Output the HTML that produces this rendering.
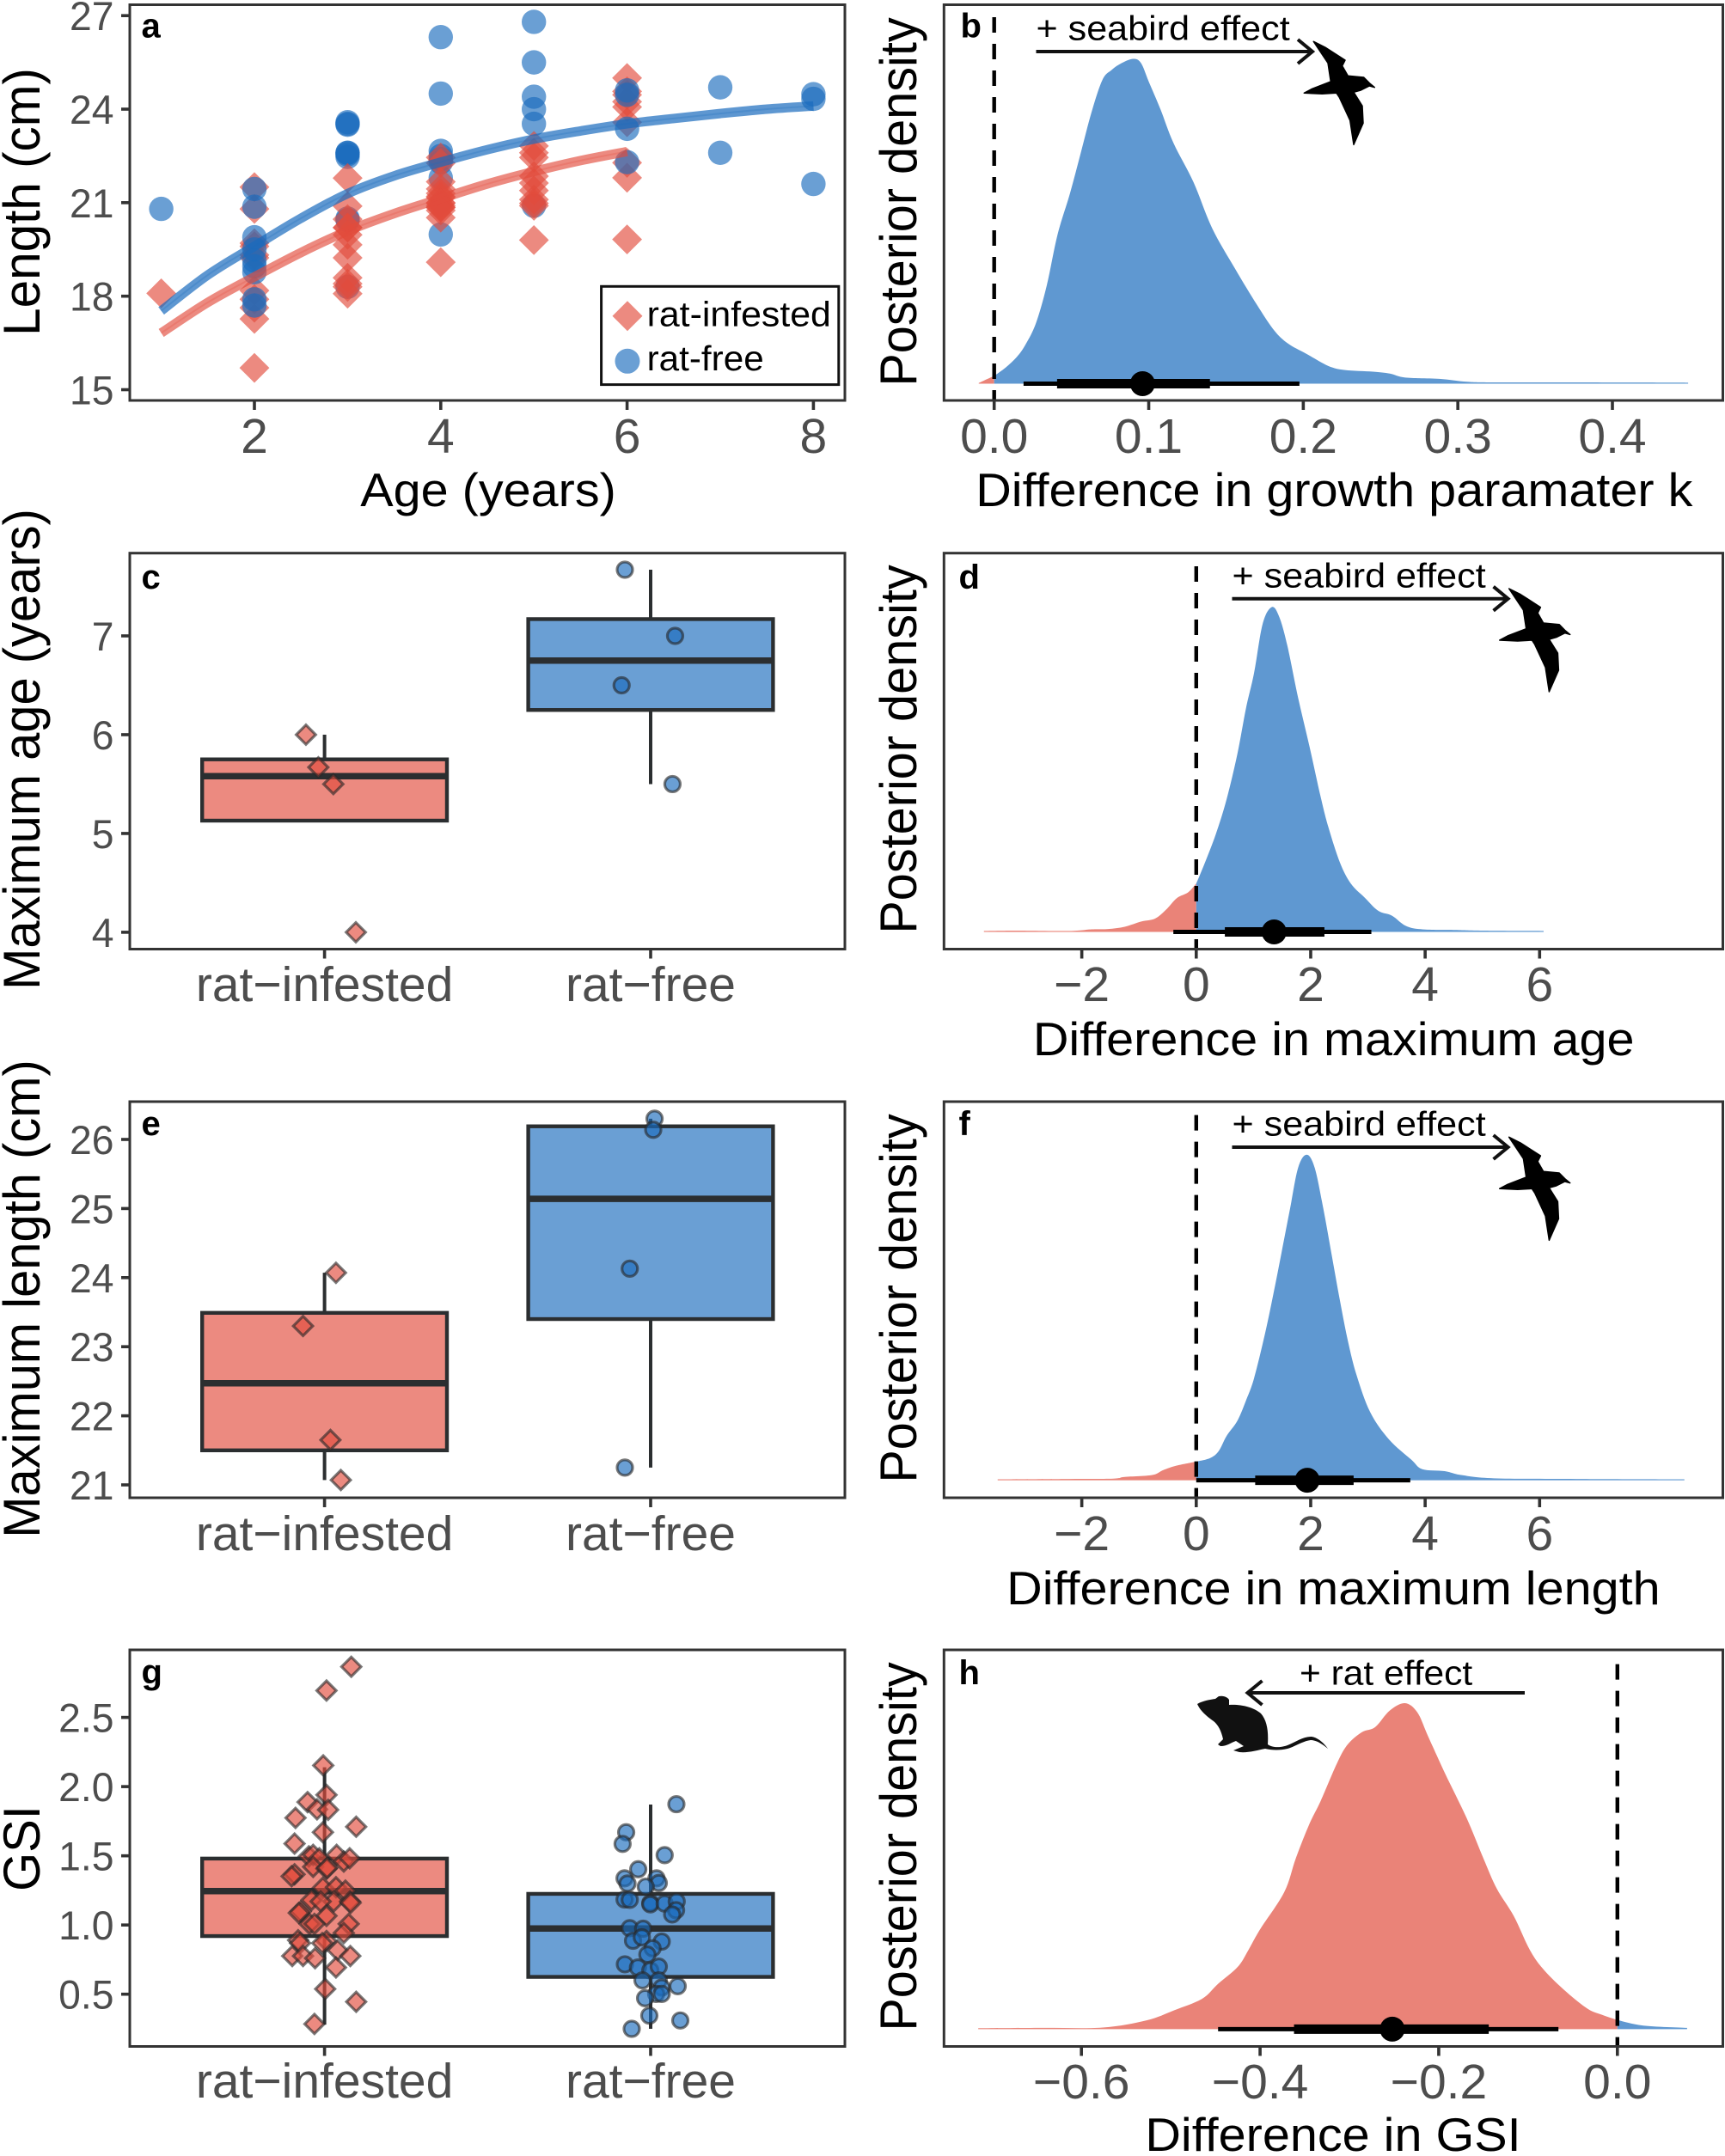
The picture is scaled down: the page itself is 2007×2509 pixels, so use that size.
<!DOCTYPE html>
<html lang="en">
<head>
<meta charset="utf-8">
<title>Seabird and rat effects on fish life history</title>
<style>
html,body{margin:0;padding:0;background:#fff}
svg{display:block}
text{font-family:"Liberation Sans",Arial,sans-serif}
.ttl{font-size:55px;fill:#000;text-anchor:middle}
.vttl{font-size:60px;fill:#000;text-anchor:middle}
.let{font-size:40px;font-weight:bold;fill:#000}
.ann{font-size:40px;fill:#000}
.leg{font-size:41px;fill:#000}
.frame{fill:none;stroke:#333;stroke-width:3}
.arrow{fill:none;stroke:#111;stroke-width:4}
.bird{fill:#000;stroke:#000;stroke-width:1.5;stroke-linejoin:round}
</style>
</head>
<body>
<svg id="fig" xmlns="http://www.w3.org/2000/svg" width="2007" height="2509" viewBox="0 0 2007 2509">
<rect x="0" y="0" width="2007" height="2509" fill="#fff"/>

<g id="pa"></g>
<g id="pb"></g>
<g id="pc"></g>
<g id="pd"></g>
<g id="pe"></g>
<g id="pf"></g>
<g id="pg"></g>
<g id="ph"></g>

<g id="static">
  <!-- panel frames -->
  <rect class="frame" x="151" y="5.5" width="832" height="460.5"/>
  <rect class="frame" x="1098.3" y="5.5" width="906.2" height="460.5"/>
  <rect class="frame" x="151" y="643.7" width="832" height="460.8"/>
  <rect class="frame" x="1098.3" y="643.7" width="906.2" height="460.8"/>
  <rect class="frame" x="151" y="1282" width="832" height="461"/>
  <rect class="frame" x="1098.3" y="1282" width="906.2" height="461"/>
  <rect class="frame" x="151" y="1920" width="832" height="461.5"/>
  <rect class="frame" x="1098.3" y="1920" width="906.2" height="461.5"/>

  <!-- panel letters -->
  <text class="let" x="164.5" y="43.5">a</text>
  <text class="let" x="1117.5" y="43.5">b</text>
  <text class="let" x="164.5" y="685">c</text>
  <text class="let" x="1115.5" y="685">d</text>
  <text class="let" x="164.5" y="1321">e</text>
  <text class="let" x="1115.5" y="1321">f</text>
  <text class="let" x="164.5" y="1959">g</text>
  <text class="let" x="1115.5" y="1960">h</text>

  <!-- axis titles -->
  <text class="ttl" transform="translate(568,589) scale(1.047,1)">Age (years)</text>
  <text class="ttl" transform="translate(1552.3,589) scale(1.047,1)">Difference in growth paramater k</text>
  <text class="ttl" transform="translate(1551.7,1228) scale(1.047,1)">Difference in maximum age</text>
  <text class="ttl" transform="translate(1551.4,1867) scale(1.047,1)">Difference in maximum length</text>
  <text class="ttl" transform="translate(1551,2503) scale(1.047,1)">Difference in GSI</text>

  <text class="vttl" transform="translate(46,235) rotate(-90) scale(.974,1)">Length (cm)</text>
  <text class="vttl" transform="translate(46,872) rotate(-90) scale(.965,1)">Maximum age (years)</text>
  <text class="vttl" transform="translate(46,1511.5) rotate(-90) scale(.965,1)">Maximum length (cm)</text>
  <text class="vttl" transform="translate(46,2151) rotate(-90) scale(.965,1)">GSI</text>
  <text class="vttl" transform="translate(1066,235) rotate(-90) scale(.961,1)">Posterior density</text>
  <text class="vttl" transform="translate(1066,872) rotate(-90) scale(.961,1)">Posterior density</text>
  <text class="vttl" transform="translate(1066,1511) rotate(-90) scale(.961,1)">Posterior density</text>
  <text class="vttl" transform="translate(1066,2149) rotate(-90) scale(.961,1)">Posterior density</text>

  <!-- legend panel a -->
  <g>
    <rect x="699.6" y="333.3" width="276.2" height="114.3" fill="#fff" stroke="#111" stroke-width="3"/>
    <polygon points="730,350.2 747.5,367.7 730,385.2 712.5,367.7" fill="#e24b3c" fill-opacity=".65"/>
    <circle cx="730" cy="420.3" r="14.5" fill="#1a6bbd" fill-opacity=".65"/>
    <text class="leg" transform="translate(752.6,379.6) scale(1.045,1)">rat-infested</text>
    <text class="leg" transform="translate(752.6,431) scale(1.03,1)">rat-free</text>
  </g>

  <!-- seabird annotation b -->
  <g>
    <text class="ann" transform="translate(1205.5,46.7) scale(1.078,1)">+ seabird effect</text>
    <path class="arrow" d="M1205.5 60H1526M1510 46L1527 60L1510 74"/>
    <path class="bird" transform="translate(1480,20)" d="M48.3 28.3L61.7 35L85 50L81.7 56.7L88.3 68.3L106.7 70L113.3 76.7L119.3 81.7L113.3 80L103.3 85L95 87.3L105 103.3L106 123.3L95 148.3L90.7 120L78.3 93.3L75 88.3L58.3 89.3L37.3 88.3L46.7 83.3L68.3 75L65 53.3Z"/>
  </g>
  <!-- seabird annotation d -->
  <g>
    <text class="ann" transform="translate(1433.5,683.3) scale(1.078,1)">+ seabird effect</text>
    <path class="arrow" d="M1433.5 696.7H1753.6M1737.6 682.7L1754.6 696.7L1737.6 710.7"/>
    <path class="bird" transform="translate(1707.4,656.7)" d="M48.3 28.3L61.7 35L85 50L81.7 56.7L88.3 68.3L106.7 70L113.3 76.7L119.3 81.7L113.3 80L103.3 85L95 87.3L105 103.3L106 123.3L95 148.3L90.7 120L78.3 93.3L75 88.3L58.3 89.3L37.3 88.3L46.7 83.3L68.3 75L65 53.3Z"/>
  </g>
  <!-- seabird annotation f -->
  <g>
    <text class="ann" transform="translate(1433.5,1321.3) scale(1.078,1)">+ seabird effect</text>
    <path class="arrow" d="M1433.5 1335H1753.6M1737.6 1321L1754.6 1335L1737.6 1349"/>
    <path class="bird" transform="translate(1707.4,1295)" d="M48.3 28.3L61.7 35L85 50L81.7 56.7L88.3 68.3L106.7 70L113.3 76.7L119.3 81.7L113.3 80L103.3 85L95 87.3L105 103.3L106 123.3L95 148.3L90.7 120L78.3 93.3L75 88.3L58.3 89.3L37.3 88.3L46.7 83.3L68.3 75L65 53.3Z"/>
  </g>
  <!-- rat annotation h -->
  <g>
    <text class="ann" transform="translate(1512,1960.3) scale(1.063,1)">+ rat effect</text>
    <path class="arrow" d="M1774 1970H1452.5M1468.5 1956L1451.5 1970L1468.5 1984"/>
    <path fill="#111" d="M1393 1983C1400 1979 1408 1978 1414 1977L1418 1974C1424 1973 1428 1975 1430 1978L1430 1984C1442 1983 1458 1986 1467 1994C1474 2002 1476 2014 1475 2030C1480 2034 1490 2034 1498 2031C1508 2027 1516 2021 1526 2021C1533 2022 1540 2028 1545 2035C1538 2029 1531 2025 1525 2025C1516 2026 1508 2032 1498 2035C1490 2037 1480 2037 1472 2035C1462 2037 1452 2040 1442 2039L1435 2037L1447 2032L1438 2026C1432 2028 1428 2032 1420 2032L1417 2030L1423 2024C1421 2014 1417 2007 1412 2003C1405 1998 1397 1992 1393 1983Z"/>
  </g>
</g>
</svg>

<script>
// ---------- Panel a data ----------
const ageTicks = [2, 4, 6, 8];
const lengthTicks = [15, 18, 21, 24, 27];
const infestedAge = [1, 2,2,2,2,2,2,2,2,2,2,2, 3,3,3,3,3,3,3,3,3,3,3,3, 4,4,4,4,4,4,4,4,4,4,4,4,4,4,4, 5,5,5,5,5,5,5,5,5,5, 6,6,6,6,6,6,6,6,6];
const infestedLength = [18.09, 21.5,20.8,19.7,19.6,19.32,19.23,18.18,17.9,17.63,17.27,15.7, 21.79,20.89,20.47,20.2,20.2,19.97,19.65,19.23,18.59,18.4,18.3,18.08, 22.45,22.27,21.67,21.44,21.3,21.2,21.16,21.0,20.98,20.9,20.85,20.84,20.75,20.52,19.09, 22.82,22.6,22.45,21.85,21.63,21.39,21.1,20.98,20.9,19.8, 25.0,24.57,24.46,24.24,24.07,23.58,22.28,21.8,19.82];
const freeAge = [1, 2,2,2,2,2,2,2,2,2, 3,3,3,3,3,3,3,3,3,3, 4,4,4,4,4,4,4,4, 5,5,5,5,5,5, 6,6,6,6, 7,7, 8,8,8];
const freeLength = [20.8, 21.44,20.87,19.89,19.5,19.14,18.96,18.77,17.9,17.7, 23.58,23.53,23.5,22.6,22.6,22.55,22.47,20.49,20.44,18.3, 26.31,24.5,22.66,22.5,22.4,22.3,21.8,19.98, 26.8,25.5,24.4,24.0,23.53,20.9, 24.6,24.46,23.37,22.3, 24.7,22.6, 24.48,24.33,21.6];
const curveAge = [1, 1.5, 2, 2.5, 3, 3.5, 4, 4.5, 5, 5.5, 6, 6.5, 7, 7.5, 8];
const freeCurve = [17.53, 18.68, 19.6, 20.5, 21.29, 21.86, 22.3, 22.7, 23.04, 23.3, 23.53, 23.7, 23.86, 24.0, 24.1];
const infestedCurveAge = [1, 1.5, 2, 2.5, 3, 3.5, 4, 4.5, 5, 5.5, 6];
const infestedCurve = [16.82, 17.8, 18.62, 19.4, 20.09, 20.65, 21.13, 21.6, 22.0, 22.35, 22.64];
// ages whose rat-free points sit underneath the rat-infested points
const freeBelowAges = [3, 4, 5];

// ---------- Box panels shared ----------
const groups = ['rat\u2212infested', 'rat\u2212free'];

// ---------- Panel c data ----------
const maxAgeTicks = [4, 5, 6, 7];
const maxAgeBoxInfested = [5.13, 5.58, 5.75];
const maxAgeBoxFree = [6.25, 6.75, 7.17];
const maxAgeWhiskerInfested = [5.13, 6];
const maxAgeWhiskerFree = [5.5, 7.67];
const maxAgeInfested = [6, 5.67, 5.5, 4];
const maxAgeInfestedJitter = [-0.057, -0.019, 0.027, 0.096];
const maxAgeFree = [7.67, 7, 6.5, 5.5];
const maxAgeFreeJitter = [-0.079, 0.075, -0.089, 0.067];

// ---------- Panel e data ----------
const maxLenTicks = [21, 22, 23, 24, 25, 26];
const maxLenBoxInfested = [21.5, 22.47, 23.49];
const maxLenBoxFree = [23.4, 25.14, 26.19];
const maxLenWhiskerInfested = [21.07, 24.07];
const maxLenWhiskerFree = [21.25, 26.3];
const maxLenInfested = [24.07, 23.3, 21.65, 21.07];
const maxLenInfestedJitter = [0.035, -0.066, 0.018, 0.05];
const maxLenFree = [26.3, 26.14, 24.13, 21.25];
const maxLenFreeJitter = [0.012, 0.008, -0.064, -0.079];

// ---------- Panel g data ----------
const gsiTicks = ['0.5', '1.0', '1.5', '2.0', '2.5'];
const gsiBoxInfested = [0.92, 1.245, 1.48];
const gsiBoxFree = [0.625, 0.975, 1.225];
const gsiWhiskerInfested = [0.28, 2.14];
const gsiWhiskerFree = [0.25, 1.87];
const gsiInfested = [2.866,2.694,2.153,1.94,1.888,1.836,1.832,1.774,1.71,1.67,1.588,1.496,1.507,1.482,1.507,1.459,1.482,1.42,1.407,1.413,1.366,1.352,1.269,1.273,1.248,1.18,1.17,1.17,1.16,1.17,1.097,1.087,1.066,1.008,1.008,1.008,0.942,0.89,0.869,0.884,0.869,0.817,0.776,0.776,0.76,0.776,0.693,0.538,0.445,0.285];
const gsiInfestedJitter = [0.082,0.006,-0.004,0.006,-0.052,-0.023,0.011,-0.089,0.097,-0.005,-0.092,-0.048,-0.035,-0.016,0.037,0.059,0.077,-0.035,0.006,0.008,-0.092,-0.101,-0.005,0.035,0.064,-0.04,0.028,0.078,0.08,-0.012,-0.073,-0.079,0.006,-0.046,-0.031,0.074,0.059,-0.081,-0.075,0.006,-0.007,0.04,-0.099,-0.066,-0.029,0.079,0.035,0.002,0.097,-0.031];
const gsiFree = [1.873,1.67,1.586,1.505,1.403,1.337,1.337,1.3,1.304,1.277,1.184,1.182,1.159,1.149,1.155,1.17,1.107,1.076,0.977,0.973,0.886,0.911,0.88,0.832,0.786,0.716,0.693,0.672,0.699,0.6,0.6,0.548,0.558,0.502,0.502,0.471,0.345,0.31,0.25];
const gsiFreeJitter = [0.079,-0.075,-0.086,0.043,-0.038,-0.08,0.018,-0.071,0.025,-0.015,-0.08,-0.064,-0.001,-0.001,0.043,0.08,0.078,0.066,-0.064,-0.023,-0.054,-0.027,0.034,0.006,-0.01,-0.079,-0.039,-0.001,0.025,-0.025,0.025,0.034,0.083,0.017,0.034,-0.017,-0.004,0.091,-0.058];

// ---------- Panel b data ----------
const kTicks = ['0.0', '0.1', '0.2', '0.3', '0.4'];
const kX = [-0.010,0,0.0075,0.0146,0.02,0.027,0.034,0.041,0.049,0.056,0.063,0.07,0.076,0.0825,0.09,0.095,0.1,0.1075,0.116,0.129,0.141,0.156,0.17,0.181,0.19,0.202,0.216,0.227,0.245,0.256,0.266,0.288,0.306,0.324,0.377,0.449];
const kDensity = [0.002,0.024,0.05,0.082,0.118,0.186,0.302,0.459,0.585,0.71,0.836,0.935,0.966,0.987,1,0.987,0.93,0.846,0.741,0.62,0.479,0.353,0.243,0.165,0.124,0.092,0.055,0.042,0.037,0.031,0.019,0.015,0.006,0.004,0.004,0.003];
const kInterval = [0.019, 0.0407, 0.096, 0.1396, 0.1975];

// ---------- Panel d data ----------
const diffTicks = [-2, 0, 2, 4, 6];
const ageDiffX = [-3.71,-3.13,-2.22,-1.83,-1.54,-1.25,-0.96,-0.72,-0.53,-0.34,-0.14,0,0.14,0.34,0.53,0.72,0.87,1.01,1.16,1.32,1.45,1.59,1.78,1.98,2.17,2.31,2.51,2.7,2.94,3.18,3.42,3.66,3.95,4.53,5.01,6.07];
const ageDiffDensity = [0.003,0.004,0.003,0.008,0.009,0.016,0.032,0.041,0.068,0.104,0.122,0.149,0.208,0.3,0.408,0.549,0.689,0.797,0.948,1,0.97,0.883,0.721,0.57,0.419,0.322,0.214,0.149,0.106,0.065,0.05,0.019,0.008,0.006,0.004,0.003];
const ageDiffInterval = [-0.40, 0.5, 1.36, 2.24, 3.06];

// ---------- Panel f data ----------
const lenDiffX = [-3.47,-2.22,-1.45,-1.25,-0.77,-0.58,-0.34,0,0.24,0.39,0.53,0.72,0.87,1.01,1.2,1.35,1.49,1.64,1.78,1.93,2.07,2.22,2.36,2.51,2.65,2.8,3.04,3.37,3.76,3.95,4.34,4.63,5.2,6.65,8.53];
const lenDiffDensity = [0.003,0.004,0.005,0.01,0.016,0.031,0.045,0.057,0.068,0.089,0.136,0.183,0.245,0.313,0.449,0.574,0.699,0.835,0.96,1,0.96,0.835,0.699,0.553,0.428,0.324,0.209,0.125,0.063,0.034,0.028,0.016,0.006,0.004,0.003];
const lenDiffInterval = [0, 1.03, 1.94, 2.75, 3.74];

// ---------- Panel h data ----------
const gsiDiffTicks = ['\u22120.6', '\u22120.4', '\u22120.2', '0.0'];
const gsiDiffTickValues = [-0.6, -0.4, -0.2, 0];
const gsiDiffX = [-0.7155,-0.644,-0.576,-0.527,-0.496,-0.465,-0.447,-0.425,-0.413,-0.4,-0.373,-0.36,-0.345,-0.332,-0.314,-0.302,-0.286,-0.271,-0.255,-0.238,-0.224,-0.212,-0.193,-0.169,-0.15,-0.135,-0.116,-0.098,-0.082,-0.057,-0.033,-0.017,0,0.029,0.078];
const gsiDiffDensity = [0.003,0.004,0.005,0.027,0.058,0.093,0.139,0.191,0.243,0.306,0.42,0.524,0.628,0.701,0.815,0.873,0.911,0.927,0.977,1,0.972,0.899,0.785,0.649,0.524,0.431,0.347,0.243,0.181,0.114,0.062,0.044,0.028,0.011,0.004];
const gsiDiffInterval = [-0.447, -0.362, -0.252, -0.144, -0.066];

// ---------- Drawing helpers ----------
const NS = 'http://www.w3.org/2000/svg';
const RED = '#e24b3c', BLUE = '#1a6bbd';
function make(tag, attrs, parent) {
  const el = document.createElementNS(NS, tag);
  for (const k in attrs) el.setAttribute(k, attrs[k]);
  parent.appendChild(el);
  return el;
}
function linear(d0, r0, d1, r1) {
  return function (v) { return r0 + (v - d0) * (r1 - r0) / (d1 - d0); };
}
function smoothPath(pts) {
  let d = 'M' + pts[0][0].toFixed(2) + ' ' + pts[0][1].toFixed(2);
  for (let i = 0; i < pts.length - 1; i++) {
    const p0 = pts[Math.max(0, i - 1)], p1 = pts[i], p2 = pts[i + 1], p3 = pts[Math.min(pts.length - 1, i + 2)];
    const c1x = p1[0] + (p2[0] - p0[0]) / 6, c1y = p1[1] + (p2[1] - p0[1]) / 6;
    const c2x = p2[0] - (p3[0] - p1[0]) / 6, c2y = p2[1] - (p3[1] - p1[1]) / 6;
    d += 'C' + c1x.toFixed(2) + ' ' + c1y.toFixed(2) + ' ' + c2x.toFixed(2) + ' ' + c2y.toFixed(2) + ' ' + p2[0].toFixed(2) + ' ' + p2[1].toFixed(2);
  }
  return d;
}
function xTick(parent, px, axisY, label, baseline) {
  const t = make('line', { x1: px, x2: px, y1: axisY, y2: axisY + 11, stroke: '#333', 'stroke-width': 3.6 }, parent);
  
  
  const s = make('text', { x: px, y: baseline + 1, 'text-anchor': 'middle', 'font-size': 57, fill: '#4d4d4d' }, parent);
  s.textContent = label;
  
  
}
function yTick(parent, py, label) {
  const t = make('line', { x1: 141, x2: 151, y1: py, y2: py, stroke: '#333', 'stroke-width': 3.6 }, parent);
  
  
  const s = make('text', { transform: 'translate(132.5,' + (py + 17) + ') scale(.985,1)', 'text-anchor': 'end', 'font-size': 47, fill: '#4d4d4d' }, parent);
  s.textContent = label;
  
  
}
function diamondPts(cx, cy, h) {
  return cx + ',' + (cy - h) + ' ' + (cx + h) + ',' + cy + ' ' + cx + ',' + (cy + h) + ' ' + (cx - h) + ',' + cy;
}

// ---------- Panel a ----------
(function () {
  const g = document.getElementById('pa');
  const x = linear(2, 296, 8, 946.4);
  const y = linear(15, 453.5, 27, 18.2);
  const drawFree = function (below) {
    freeAge.forEach(function (a, i) {
      if (freeBelowAges.includes(a) !== below) return;
      const m = make('circle', { cx: x(a), cy: y(freeLength[i]), r: 14.2, fill: BLUE, 'fill-opacity': 0.65 }, g);
      
      
    });
  };
  drawFree(true);
  infestedAge.forEach(function (a, i) {
    const m = make('polygon', { points: diamondPts(x(a), y(infestedLength[i]), 17.4), fill: RED, 'fill-opacity': 0.65 }, g);
    
    
  });
  drawFree(false);
  const rp = smoothPath(infestedCurveAge.map(function (a, i) { return [x(a), y(infestedCurve[i])]; }));
  const bp = smoothPath(curveAge.map(function (a, i) { return [x(a), y(freeCurve[i])]; }));
  const r1 = make('path', { d: rp, fill: 'none', stroke: RED, 'stroke-opacity': 0.65, 'stroke-width': 11 }, g);
  
  
  const r2 = make('path', { d: rp, fill: 'none', stroke: RED, 'stroke-opacity': 0.25, 'stroke-width': 2 }, g);
  
  
  const b1 = make('path', { d: bp, fill: 'none', stroke: BLUE, 'stroke-opacity': 0.7, 'stroke-width': 11 }, g);
  
  
  const b2 = make('path', { d: bp, fill: 'none', stroke: BLUE, 'stroke-opacity': 0.25, 'stroke-width': 2 }, g);
  
  
  ageTicks.forEach(function (t) { xTick(g, x(t), 466, String(t), 526); });
  lengthTicks.forEach(function (t) { yTick(g, y(t), String(t)); });
})();

// ---------- Box panels ----------
function boxPanel(id, y, axisY, baseline, boxes, whiskers, vals, jits) {
  const g = document.getElementById(id);
  const cat = linear(0, 377.6, 1, 757);
  const halfW = 142.4;
  [0, 1].forEach(function (c) {
    const cx = cat(c);
    const up = make('line', { x1: cx, x2: cx, y1: y(boxes[c][2]), y2: y(whiskers[c][1]), stroke: '#2b2e30', 'stroke-width': 4 }, g);
    
    
    const dn = make('line', { x1: cx, x2: cx, y1: y(boxes[c][0]), y2: y(whiskers[c][0]), stroke: '#2b2e30', 'stroke-width': 4 }, g);
    
    
    const b = make('rect', { x: cx - halfW, y: y(boxes[c][2]), width: 2 * halfW, height: y(boxes[c][0]) - y(boxes[c][2]), fill: c === 0 ? '#ec8a80' : '#6a9fd4', stroke: '#2b2e30', 'stroke-width': 4.4 }, g);
    
    
    const m = make('line', { x1: cx - halfW, x2: cx + halfW, y1: y(boxes[c][1]), y2: y(boxes[c][1]), stroke: '#2b2e30', 'stroke-width': 7.5 }, g);
    
    
  });
  vals[0].forEach(function (v, i) {
    const p = make('polygon', { points: diamondPts(cat(0) + jits[0][i] * 379.4, y(v), 11.3), fill: RED, 'fill-opacity': 0.65, stroke: '#282828', 'stroke-opacity': 0.62, 'stroke-width': 3.2 }, g);
    
    
  });
  vals[1].forEach(function (v, i) {
    const p = make('circle', { cx: cat(1) + jits[1][i] * 379.4, cy: y(v), r: 9, fill: BLUE, 'fill-opacity': 0.65, stroke: '#282828', 'stroke-opacity': 0.62, 'stroke-width': 3.2 }, g);
    
    
  });
  groups.forEach(function (name, c) { xTick(g, cat(c), axisY, name, baseline); });
  return g;
}

(function () {
  const y = linear(4, 1084.9, 7, 740);
  const g = boxPanel('pc', y, 1104.5, 1164, [maxAgeBoxInfested, maxAgeBoxFree], [maxAgeWhiskerInfested, maxAgeWhiskerFree], [maxAgeInfested, maxAgeFree], [maxAgeInfestedJitter, maxAgeFreeJitter]);
  maxAgeTicks.forEach(function (t) { yTick(g, y(t), String(t)); });
})();
(function () {
  const y = linear(21, 1728, 26, 1326);
  const g = boxPanel('pe', y, 1743, 1803, [maxLenBoxInfested, maxLenBoxFree], [maxLenWhiskerInfested, maxLenWhiskerFree], [maxLenInfested, maxLenFree], [maxLenInfestedJitter, maxLenFreeJitter]);
  maxLenTicks.forEach(function (t) { yTick(g, y(t), String(t)); });
})();
(function () {
  const y = linear(0.5, 2320.7, 2.5, 1998.6);
  const g = boxPanel('pg', y, 2381.5, 2440, [gsiBoxInfested, gsiBoxFree], [gsiWhiskerInfested, gsiWhiskerFree], [gsiInfested, gsiFree], [gsiInfestedJitter, gsiFreeJitter]);
  gsiTicks.forEach(function (t) { yTick(g, y(parseFloat(t)), t); });
})();

// ---------- Density panels ----------
function densityPanel(id, x, base, height, xs, ds, interval, leftColor, rightColor, dashTop, axisY, labelY, tickVals, tickLabels) {
  const g = document.getElementById(id);
  const y = function (d) { return base - d * height; };
  const all = xs.map(function (v, i) { return [v, ds[i]]; });
  const toPx = function (p) { return [x(p[0]), y(p[1])]; };
  const area = function (list, color, name) {
    if (list.length < 2) return;
    const pts = list.map(toPx);
    const first = pts[0], last = pts[pts.length - 1];
    const a = make('path', { d: smoothPath(pts) + 'L' + last[0].toFixed(2) + ' ' + base + 'L' + first[0].toFixed(2) + ' ' + base + 'Z', fill: color }, g);
    
    
  };
  area(all.filter(function (p) { return p[0] <= 0; }), leftColor, 'density-area-below-zero');
  area(all.filter(function (p) { return p[0] >= 0; }), rightColor, 'density-area-above-zero');
  const dash = make('line', { x1: x(0), x2: x(0), y1: dashTop, y2: axisY, stroke: '#000', 'stroke-width': 4.4, 'stroke-dasharray': '18 13' }, g);
  
  
  const thin = make('line', { x1: x(interval[0]), x2: x(interval[4]), y1: base, y2: base, stroke: '#000', 'stroke-width': 5 }, g);
  
  
  const thick = make('line', { x1: x(interval[1]), x2: x(interval[3]), y1: base, y2: base, stroke: '#000', 'stroke-width': 11 }, g);
  
  
  const med = make('circle', { cx: x(interval[2]), cy: base, r: 14.5, fill: '#000' }, g);
  
  
  tickVals.forEach(function (t, i) { xTick(g, x(t), axisY, tickLabels[i], labelY); });
}
const DENS_BLUE = '#5f98d1', DENS_RED = '#ea8378';
densityPanel('pb', linear(0, 1156.7, 0.4, 1876), 446.5, 378, kX, kDensity, kInterval, DENS_RED, DENS_BLUE, 20, 466, 526, kTicks.map(parseFloat), kTicks);
densityPanel('pd', linear(0, 1391.8, 6, 1791.3), 1084.5, 378, ageDiffX, ageDiffDensity, ageDiffInterval, DENS_RED, DENS_BLUE, 659, 1104.5, 1164, diffTicks, diffTicks.map(function (t) { return String(t).replace('-', '\u2212'); }));
densityPanel('pf', linear(0, 1391.8, 6, 1791.3), 1722.6, 378.8, lenDiffX, lenDiffDensity, lenDiffInterval, DENS_RED, DENS_BLUE, 1297.6, 1743, 1803, diffTicks, diffTicks.map(function (t) { return String(t).replace('-', '\u2212'); }));
densityPanel('ph', linear(-0.6, 1258.2, 0, 1881.8), 2361.4, 379.4, gsiDiffX, gsiDiffDensity, gsiDiffInterval, DENS_RED, DENS_BLUE, 1936.6, 2381.5, 2441, gsiDiffTickValues, gsiDiffTicks);
</script>
</body>
</html>
